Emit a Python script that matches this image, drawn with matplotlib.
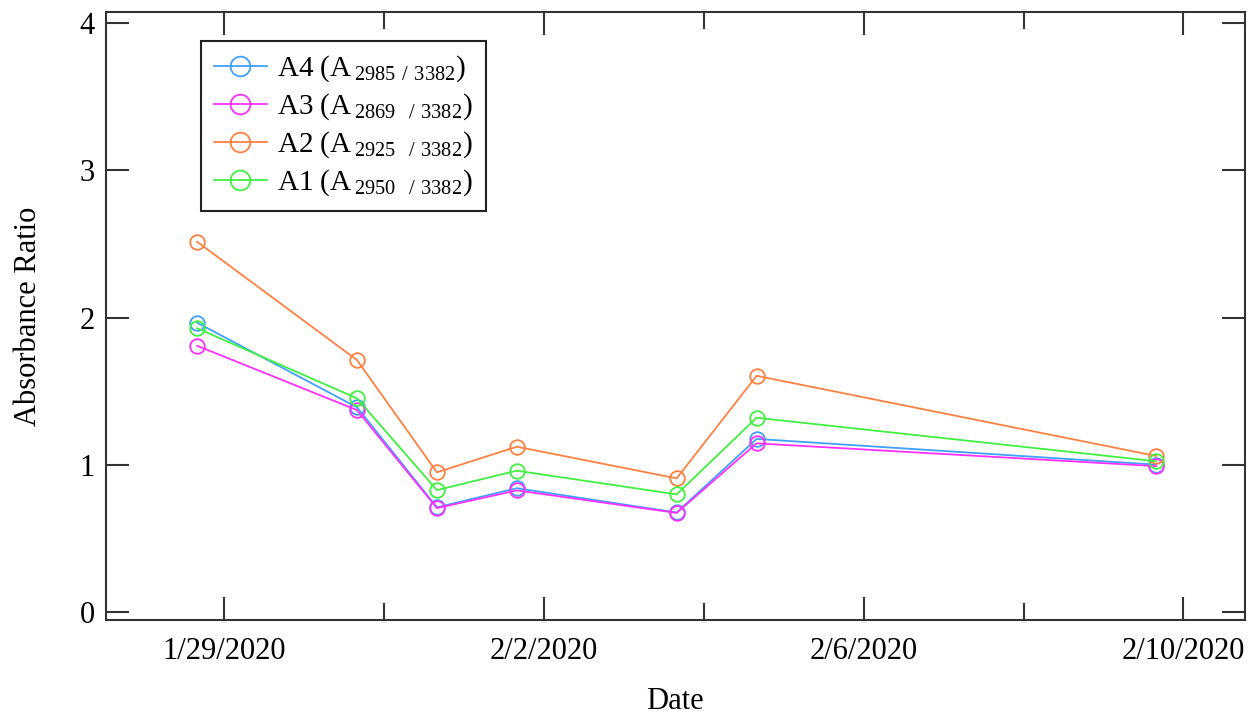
import matplotlib
matplotlib.use("Agg")
import matplotlib.pyplot as plt
import matplotlib.dates as mdates
import pandas as pd

plt.rcParams["font.family"] = ["Liberation Serif", "DejaVu Serif"]
plt.rcParams["mathtext.fontset"] = "custom"
plt.rcParams["mathtext.rm"] = "Liberation Serif"

dates = pd.to_datetime(["2020-01-28 15:50", "2020-01-30 15:50", "2020-01-31 15:50",
                        "2020-02-01 15:50", "2020-02-03 15:50", "2020-02-04 15:50",
                        "2020-02-09 15:50"])
a4 = [1.965, 1.39, 0.71, 0.84, 0.675, 1.175, 1.00]
a3 = [1.808, 1.371, 0.705, 0.825, 0.672, 1.145, 0.99]
a2 = [2.515, 1.711, 0.948, 1.122, 0.907, 1.604, 1.059]
a1 = [1.927, 1.451, 0.827, 0.959, 0.798, 1.319, 1.023]

series = [("A4 (A$_{\\mathrm{\\,2985\\ /\\ 3382}}$)", a4, "#3ea0ff"),
          ("A3 (A$_{\\mathrm{\\,2869\\ \\ /\\ 3382}}$)", a3, "#ff30ff"),
          ("A2 (A$_{\\mathrm{\\,2925\\ \\ /\\ 3382}}$)", a2, "#ff8040"),
          ("A1 (A$_{\\mathrm{\\,2950\\ \\ /\\ 3382}}$)", a1, "#40f040")]

fig = plt.figure(figsize=(12.53, 7.13), dpi=100)
ax = fig.add_axes([0.0844, 0.1304, 0.9092, 0.8528])

for name, vals, color in series:
    ax.plot(dates, vals, color=color, lw=1.3, marker="o", ms=10.5,
            mfc="none", mec=color, mew=1.3, label=name)

ax.set_xlim(pd.Timestamp("2020-01-27 12:23"), pd.Timestamp("2020-02-10 18:30"))
ax.set_ylim(-0.056, 4.077)
ax.set_yticks([0, 1, 2, 3, 4])
ax.xaxis.set_major_locator(mdates.DayLocator(bymonthday=[29, 2, 6, 10]))
ax.xaxis.set_minor_locator(mdates.DayLocator(bymonthday=[31, 4, 8]))
ax.xaxis.set_major_formatter(mdates.DateFormatter("%-m/%-d/%Y"))

for s in ax.spines.values():
    s.set_linewidth(1.5)
    s.set_color("#333333")
ax.tick_params(which="both", direction="in", top=True, right=True,
               colors="#333333", labelcolor="black", labelsize=22, width=1.5)
ax.tick_params(which="major", length=16.5)
ax.tick_params(which="minor", length=12)
ax.tick_params(axis="x", pad=12)
ax.tick_params(axis="y", pad=8)

ax.set_xlabel("Date", fontsize=22, labelpad=15)
ax.set_ylabel("Absorbance Ratio", fontsize=22, labelpad=26)

leg = ax.legend(loc="upper left", bbox_to_anchor=(0.0837, 0.9528), borderaxespad=0,
                fontsize=21, markerscale=1.35, handlelength=1.8, handletextpad=0.35,
                labelspacing=0.25, fancybox=False, shadow=False, edgecolor="#222222",
                framealpha=1, borderpad=0.45)
leg.get_frame().set_linewidth(1.5)

fig.savefig("out.png", dpi=100)
